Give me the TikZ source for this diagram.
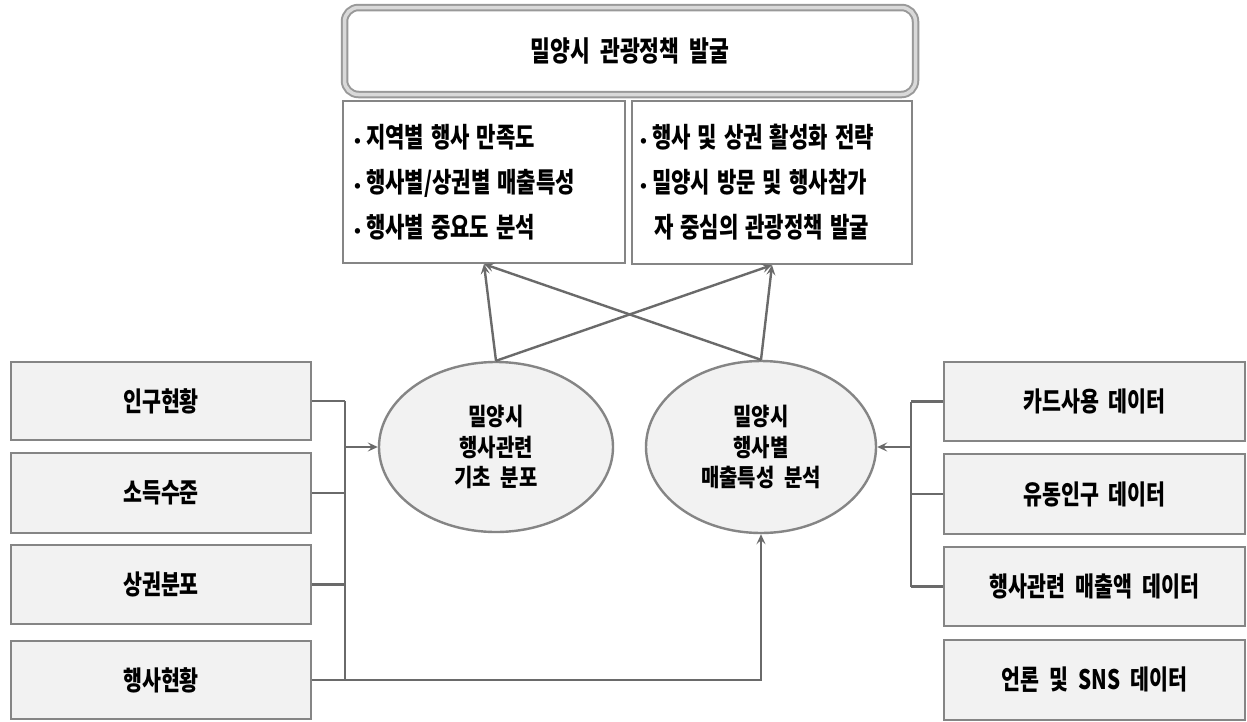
\documentclass[tikz,border=0pt]{standalone}
\usepackage{fontspec}
\newfontfamily\kr{Noto Sans CJK KR}[WordSpace=2.1]
\usetikzlibrary{arrows.meta,shapes.geometric}
\definecolor{boxfill}{HTML}{F2F2F2}
\definecolor{boxline}{HTML}{858585}
\definecolor{conn}{HTML}{6A6A6A}
\newcommand\st[1]{\scalebox{0.98}[1.28]{#1}}
\newcommand\se[1]{\scalebox{0.95}[1.15]{#1}}
\newcommand\bul{\makebox[12pt][l]{\raisebox{1pt}{\scalebox{0.8}{•}}}}
\begin{document}
\begin{tikzpicture}[x=1pt,y=-1pt,
  every node/.style={font=\kr\bfseries},
  srcbox/.style={draw=boxline,line width=2.6pt,fill=boxfill,minimum width=300pt,inner sep=0pt,font=\kr\bfseries\fontsize{21}{24}\selectfont},
  txtbox/.style={draw=boxline,line width=2.2pt,fill=white,inner sep=0pt,font=\kr\bfseries\fontsize{21.5}{45}\selectfont,align=left},
  oval/.style={ellipse,draw=boxline,line width=2.4pt,fill=boxfill,inner sep=0pt,align=center,font=\kr\bfseries\fontsize{21}{30.5}\selectfont},
  conline/.style={draw=conn,line width=2.4pt},
  arr/.style={conline,-{Stealth[length=10pt,width=9pt,inset=4pt]}},
]
\useasboundingbox (0,0) rectangle (1247,721);
\fill[white] (0,0) rectangle (1247,721);

% top box
\node[draw=gray!80,line width=2pt,double=gray!30,double distance=3.5pt,rounded corners=14pt,fill=white,
      minimum width=571pt,minimum height=87pt,inner sep=0pt,font=\kr\bfseries\fontsize{22}{26}\selectfont]
  (top) at (630,51) {\st{밀양시 관광정책 발굴}};

% result boxes
\node[txtbox,minimum width=282pt,minimum height=162pt,text width=260pt] (lbox) at (484,182)
  {\bul\st{지역별 행사 만족도}\\ \bul\st{행사별/상권별 매출특성}\\ \bul\st{행사별 중요도 분석}};
\node[txtbox,minimum width=280pt,minimum height=163pt,text width=264pt] (rbox) at (772,182.5)
  {\bul\st{행사 및 상권 활성화 전략}\\ \bul\st{밀양시 방문 및 행사참가}\\ \hspace*{14pt}\st{자 중심의 관광정책 발굴}};

% ellipses
\node[oval,minimum width=234pt,minimum height=170pt] (e1) at (496,447) {\se{밀양시}\\ \se{행사관련}\\ \se{기초 분포}};
\node[oval,minimum width=230pt,minimum height=172pt] (e2) at (761,447) {\se{밀양시}\\ \se{행사별}\\ \se{매출특성 분석}};

% left source boxes
\node[srcbox,minimum height=78pt] (l1) at (161,401) {\st{인구현황}};
\node[srcbox,minimum height=80pt] (l2) at (161,493) {\st{소득수준}};
\node[srcbox,minimum height=79pt] (l3) at (161,584.5) {\st{상권분포}};
\node[srcbox,minimum height=78pt] (l4) at (161,680) {\st{행사현황}};

% right source boxes
\node[srcbox,minimum width=301pt,minimum height=79pt] (r1) at (1094.5,401.5) {\st{카드사용 데이터}};
\node[srcbox,minimum width=301pt,minimum height=80pt] (r2) at (1094.5,494) {\st{유동인구 데이터}};
\node[srcbox,minimum width=301pt,minimum height=79pt] (r3) at (1094.5,586.5) {\st{행사관련 매출액 데이터}};
\node[srcbox,minimum width=301pt,minimum height=80pt] (r4) at (1094.5,680) {\st{언론 및 SNS 데이터}};

% buses
\coordinate (lbus) at (345,447);
\coordinate (rbus) at (911,447);

\draw[conline] (l1.east) -- (l1.east -| lbus);
\draw[conline] (l2.east) -- (l2.east -| lbus);
\draw[conline] (l3.east) -- (l3.east -| lbus);
\draw[conline] (l1.east -| lbus) -- (l4.east -| lbus);
\draw[arr] (lbus) -- (e1.west);
\draw[arr] (l4.east) -| (e2.south);

\draw[conline] (r1.west) -- (r1.west -| rbus);
\draw[conline] (r2.west) -- (r2.west -| rbus);
\draw[conline] (r3.west) -- (r3.west -| rbus);
\draw[conline] (r1.west -| rbus) -- (r3.west -| rbus);
\draw[arr] (rbus) -- (e2.east);

% up arrows
\draw[arr] (e1.north) -- (lbox.south);
\draw[arr] (e1.north) -- (rbox.south);
\draw[arr] (e2.north) -- (lbox.south);
\draw[arr] (e2.north) -- (rbox.south);
\end{tikzpicture}
\end{document}
